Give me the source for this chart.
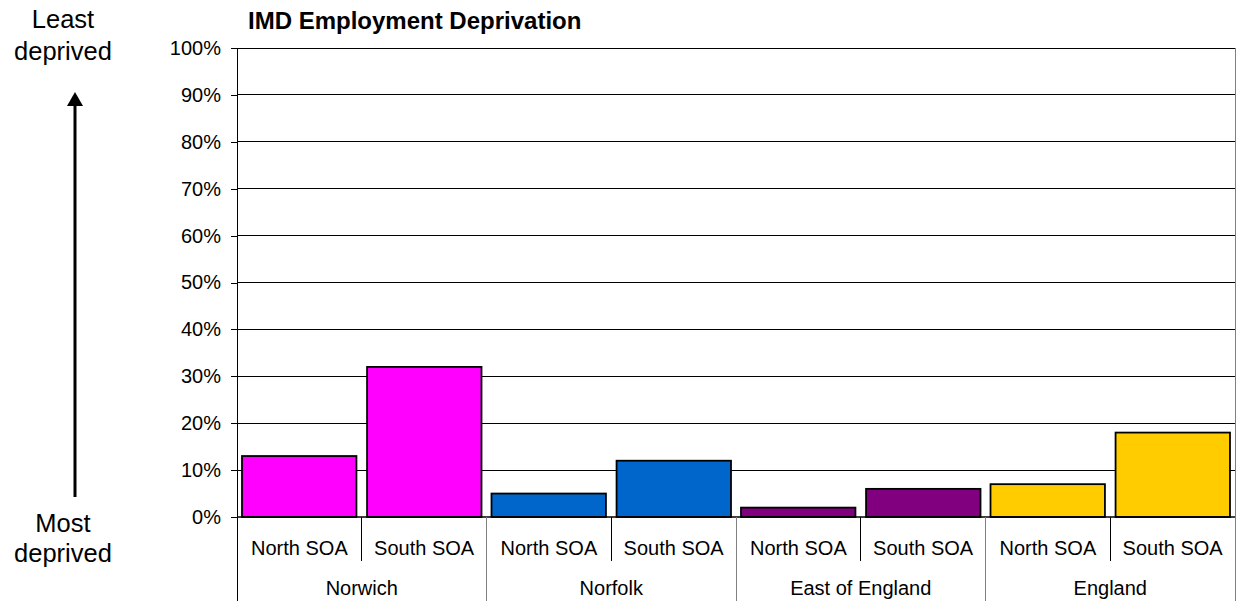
<!DOCTYPE html>
<html>
<head>
<meta charset="utf-8">
<script src="https://cdn.jsdelivr.net/npm/d3@7"></script>
<style>
  body { margin: 0; background: #fff; }
  svg { display: block; font-family: Arial, "Liberation Sans", sans-serif; }
</style>
</head>
<body>
<script>
const groups = ["Norwich", "Norfolk", "East of England", "England"];
const subs = ["North SOA", "South SOA"];
const values = [
  [13, 32],
  [5, 12],
  [2, 6],
  [7, 18],
];
const colors = ["#ff00ff", "#0066cc", "#800080", "#ffcc00"];
const yTicks = [0, 10, 20, 30, 40, 50, 60, 70, 80, 90, 100];

const width = 1238;
const height = 601;
const plot = { left: 237, right: 1235, top: 48, bottom: 517 };

const svg = d3
  .select("body")
  .append("svg")
  .attr("width", width)
  .attr("height", height);

const xGroup = d3
  .scaleBand()
  .domain(groups)
  .range([plot.left, plot.right])
  .padding(0);

const xSub = d3
  .scaleBand()
  .domain(subs)
  .range([0, xGroup.bandwidth()])
  .paddingInner(0.085)
  .paddingOuter(0.04);

const yScale = d3
  .scaleLinear()
  .domain([0, 100])
  .range([plot.bottom, plot.top]);

// gridlines
svg
  .append("g")
  .selectAll("line")
  .data(yTicks.slice(1))
  .enter()
  .append("line")
  .attr("x1", plot.left)
  .attr("x2", plot.right)
  .attr("y1", (d) => yScale(d))
  .attr("y2", (d) => yScale(d))
  .attr("stroke", "#000")
  .attr("stroke-width", 1)
  .attr("shape-rendering", "crispEdges");

// right border of plot
svg
  .append("line")
  .attr("x1", plot.right)
  .attr("x2", plot.right)
  .attr("y1", plot.top)
  .attr("y2", plot.bottom)
  .attr("stroke", "#808080")
  .attr("shape-rendering", "crispEdges");

// y axis
const yAxis = d3
  .axisLeft(yScale)
  .tickValues(yTicks)
  .tickSize(6)
  .tickPadding(10)
  .tickFormat((d) => d + "%");

const yAxisG = svg
  .append("g")
  .attr("transform", `translate(${plot.left} 0)`)
  .call(yAxis);
yAxisG.select(".domain").attr("stroke", "#000").attr("shape-rendering", "crispEdges");
yAxisG.selectAll(".tick line").attr("stroke", "#000").attr("shape-rendering", "crispEdges");
yAxisG
  .selectAll("text")
  .attr("font-size", "20")
  .attr("fill", "#000")
  .attr("font-family", "Arial, 'Liberation Sans', sans-serif");

// bars
const barGroups = svg
  .append("g")
  .selectAll("g")
  .data(groups)
  .enter()
  .append("g")
  .attr("transform", (d) => `translate(${xGroup(d)} 0)`);

barGroups
  .selectAll("rect")
  .data((d, i) => subs.map((s, j) => ({ sub: s, value: values[i][j], color: colors[i] })))
  .enter()
  .append("rect")
  .attr("x", (d) => xSub(d.sub))
  .attr("width", xSub.bandwidth())
  .attr("y", (d) => yScale(d.value))
  .attr("height", (d) => plot.bottom - yScale(d.value))
  .attr("fill", (d) => d.color)
  .attr("stroke", "#000")
  .attr("stroke-width", 1.8);

// x axis baseline
svg
  .append("line")
  .attr("x1", plot.left)
  .attr("x2", plot.right)
  .attr("y1", plot.bottom)
  .attr("y2", plot.bottom)
  .attr("stroke", "#000")
  .attr("stroke-width", 1.5);

// category separators and labels
const catAxis = svg.append("g").attr("font-size", "20");

groups.forEach((g) => {
  const x0 = xGroup(g);
  catAxis
    .append("line")
    .attr("x1", x0 + xGroup.bandwidth() / 2)
    .attr("x2", x0 + xGroup.bandwidth() / 2)
    .attr("y1", plot.bottom)
    .attr("y2", 561)
    .attr("stroke", "#000")
    .attr("shape-rendering", "crispEdges");
  subs.forEach((s, j) => {
    catAxis
      .append("text")
      .attr("x", x0 + (xGroup.bandwidth() / 2) * (j + 0.5))
      .attr("y", 555)
      .attr("text-anchor", "middle")
      .text(s);
  });
  catAxis
    .append("text")
    .attr("x", x0 + xGroup.bandwidth() / 2)
    .attr("y", 595)
    .attr("text-anchor", "middle")
    .text(g);
});

catAxis
  .selectAll("line.grp")
  .data(groups.concat(["end"]))
  .enter()
  .append("line")
  .attr("class", "grp")
  .attr("x1", (d) => (d === "end" ? plot.right : xGroup(d)))
  .attr("x2", (d) => (d === "end" ? plot.right : xGroup(d)))
  .attr("y1", plot.bottom)
  .attr("y2", height)
  .attr("stroke", (d, i) => (i === 0 ? "#000" : "#808080"))
  .attr("shape-rendering", "crispEdges");

// title
svg
  .append("text")
  .attr("x", 248)
  .attr("y", 29)
  .attr("font-size", "24")
  .attr("font-weight", "bold")
  .text("IMD Employment Deprivation");

// side annotation
const side = svg.append("g").attr("font-size", "25.5").attr("text-anchor", "middle");
side.append("text").attr("x", 63).attr("y", 28).text("Least");
side.append("text").attr("x", 63).attr("y", 60).text("deprived");
side.append("text").attr("x", 63).attr("y", 532).text("Most");
side.append("text").attr("x", 63).attr("y", 562).text("deprived");

svg
  .append("line")
  .attr("x1", 75)
  .attr("x2", 75)
  .attr("y1", 497)
  .attr("y2", 104)
  .attr("stroke", "#000")
  .attr("stroke-width", 3);

svg
  .append("path")
  .attr("d", "M75,92 L67,106 L83,106 Z")
  .attr("fill", "#000");
</script>
</body>
</html>
